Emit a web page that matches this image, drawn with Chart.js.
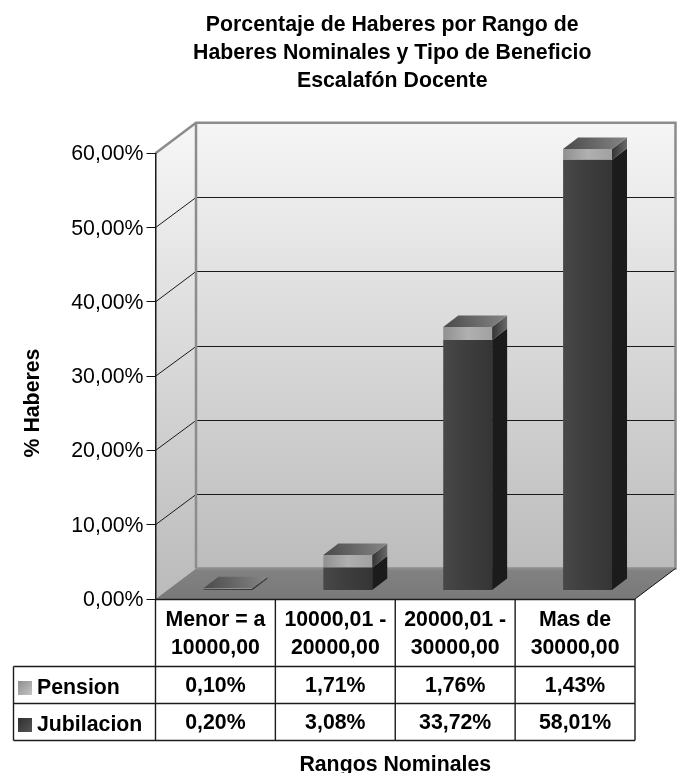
<!DOCTYPE html>
<html>
<head>
<meta charset="utf-8">
<title>Porcentaje de Haberes</title>
<script src="https://cdn.jsdelivr.net/npm/chart.js@4"></script>
<style>
    html, body { margin: 0; padding: 0; background: #fff; }
    canvas { display: block; }
</style>
</head>
<body>
<canvas id="haberesChart" width="681" height="773"></canvas>
<script>
const categories = [['Menor = a', '10000,00'], ['10000,01 -', '20000,00'], ['20000,01 -', '30000,00'], ['Mas de', '30000,00']];
const pension = [0.10, 1.71, 1.76, 1.43];
const jubilacion = [0.20, 3.08, 33.72, 58.01];
const pensionLabels = ['0,10%', '1,71%', '1,76%', '1,43%'];
const jubilacionLabels = ['0,20%', '3,08%', '33,72%', '58,01%'];
const yTickLabels = ['0,00%', '10,00%', '20,00%', '30,00%', '40,00%', '50,00%', '60,00%'];
const titleLines = ['Porcentaje de Haberes por Rango de', 'Haberes Nominales y Tipo de Beneficio', 'Escalafón Docente'];

const FONT = '"Liberation Sans", Arial, sans-serif';
const FONT_SIZE = 21.3;
const WALL = { dx: 40.5, dy: -30.5 }; // fondo del grafico respecto del eje
const PLANE = { dx: 12.5, dy: -8.5 }; // plano frontal de las columnas
const DEPTH = { dx: 15, dy: -11.5 };  // profundidad de cada columna

function hGradient(ctx, x0, x1, stops) {
    const g = ctx.createLinearGradient(x0, 0, x1, 0);
    stops.forEach((c, i) => g.addColorStop(i / (stops.length - 1), c));
    return g;
}

function barFill(stops) {
    return (c) => {
        const x = c.chart.scales.x;
        const mid = x ? x.getPixelForValue(c.dataIndex) : NaN;
        if (!Number.isFinite(mid)) return stops[0];
        return hGradient(c.chart.ctx, mid - 25, mid + 25, stops);
    };
}

function poly(ctx, pts, fill) {
    ctx.beginPath();
    pts.forEach((p, i) => (i ? ctx.lineTo(p[0], p[1]) : ctx.moveTo(p[0], p[1])));
    ctx.closePath();
    ctx.fillStyle = fill;
    ctx.fill();
}

// paredes, piso y lineas de division
const wallsPlugin = {
    id: 'walls',
    // el titulo va apenas a la izquierda del centro del area
    afterLayout(chart) {
        chart.titleBlock.left -= 3;
        chart.titleBlock.right -= 3;
    },
    beforeDraw(chart) {
        const { ctx, chartArea: a, scales: { y } } = chart;
        const bx = a.left + WALL.dx, tb = a.top + WALL.dy, fb = a.bottom + WALL.dy;
        const wallGrad = (t, b) => {
            const g = ctx.createLinearGradient(0, t, 0, b);
            g.addColorStop(0, '#f5f5f5');
            g.addColorStop(1, '#bcbcbc');
            return g;
        };
        ctx.save();
        poly(ctx, [[a.left, a.top], [bx, tb], [bx, fb], [a.left, a.bottom]], wallGrad(a.top - 15, a.bottom - 15));
        poly(ctx, [[bx, tb], [a.right + WALL.dx, tb], [a.right + WALL.dx, fb], [bx, fb]], wallGrad(tb, fb));

        const floorGrad = ctx.createLinearGradient(0, fb, 0, a.bottom);
        floorGrad.addColorStop(0, '#828282');
        floorGrad.addColorStop(1, '#797979');
        poly(ctx, [[a.left, a.bottom], [a.right, a.bottom], [a.right + WALL.dx, fb], [bx, fb]], floorGrad);

        ctx.strokeStyle = '#1a1a1a';
        ctx.lineWidth = 1;
        yTickLabels.forEach((_, i) => {
            if (i === 0 || i === yTickLabels.length - 1) return;
            const py = y.getPixelForValue(i * 10);
            const back = Math.round(py + WALL.dy) + 0.5;
            ctx.beginPath();
            ctx.moveTo(a.left, py);
            ctx.lineTo(bx, back);
            ctx.lineTo(a.right + WALL.dx, back);
            ctx.stroke();
        });

        ctx.strokeStyle = '#8c8c8c';
        ctx.lineWidth = 2.5;
        ctx.beginPath();
        ctx.moveTo(a.left, a.top);
        ctx.lineTo(bx, tb);
        ctx.lineTo(a.right + WALL.dx, tb);
        ctx.lineTo(a.right + WALL.dx, fb);
        ctx.lineTo(bx, fb);
        ctx.moveTo(bx, tb);
        ctx.lineTo(bx, fb);
        ctx.stroke();

        ctx.strokeStyle = '#111';
        ctx.lineWidth = 1;
        ctx.beginPath();
        ctx.moveTo(a.right, a.bottom);
        ctx.lineTo(a.right + WALL.dx, fb);
        ctx.stroke();
        ctx.restore();
    },
    // las columnas se dibujan en su plano, un poco detras del eje
    beforeDatasetsDraw(chart) {
        chart.ctx.save();
        chart.ctx.translate(PLANE.dx, PLANE.dy);
    },
    afterDatasetsDraw(chart) {
        const ctx = chart.ctx;
        const jub = chart.getDatasetMeta(0).data;
        const pen = chart.getDatasetMeta(1).data;
        const { dx, dy } = DEPTH;
        jub.forEach((b, i) => {
            const l = b.x - b.width / 2, r = b.x + b.width / 2;
            const base = b.base, mid = b.y, top = pen[i].y;
            poly(ctx, [[r, base], [r + dx, base + dy], [r + dx, mid + dy], [r, mid]], '#1b1b1b');
            const sg = ctx.createLinearGradient(r, 0, r + dx, 0);
            sg.addColorStop(0, '#343434');
            sg.addColorStop(1, '#6a6a6a');
            poly(ctx, [[r, mid], [r + dx, mid + dy], [r + dx, top + dy], [r, top]], sg);
            const tg = ctx.createLinearGradient(l, top, r + dx, top + dy);
            tg.addColorStop(0, '#4a4a4a');
            tg.addColorStop(1, '#868686');
            poly(ctx, [[l, top], [r, top], [r + dx, top + dy], [l + dx, top + dy]], tg);
        });
        ctx.restore();
    }
};

// tabla de datos bajo el eje x y titulo del eje y
const tablePlugin = {
    id: 'dataTable',
    afterDraw(chart) {
        const { ctx, chartArea: a, scales: { x } } = chart;
        const tableLeft = 13.5, rowTop = 666.5, rowMid = 703.5, rowEnd = 740.5;
        const colW = x.width / categories.length;
        ctx.save();
        ctx.strokeStyle = '#1c1c1c';
        ctx.lineWidth = 1.4;
        ctx.beginPath();
        ctx.moveTo(a.left, a.bottom + 0.5);
        ctx.lineTo(a.right, a.bottom + 0.5);
        [rowTop, rowMid, rowEnd].forEach((yy) => {
            ctx.moveTo(tableLeft, yy);
            ctx.lineTo(a.right, yy);
        });
        ctx.moveTo(tableLeft, rowTop);
        ctx.lineTo(tableLeft, rowEnd);
        categories.concat([null]).forEach((_, i) => {
            ctx.moveTo(a.left + i * colW, a.bottom);
            ctx.lineTo(a.left + i * colW, rowEnd);
        });
        ctx.stroke();

        ctx.fillStyle = '#000';
        ctx.font = 'bold ' + FONT_SIZE + 'px ' + FONT;
        ctx.textBaseline = 'middle';
        ctx.textAlign = 'center';
        categories.forEach((_, i) => {
            const cx = x.getPixelForValue(i);
            ctx.fillText(pensionLabels[i], cx, 686.5);
            ctx.fillText(jubilacionLabels[i], cx, 723.5);
        });
        ctx.textAlign = 'left';
        ctx.fillText('Pension', 37, 688);
        ctx.fillText('Jubilacion', 37, 725);

        // el titulo del eje no queda centrado en la escala
        ctx.save();
        ctx.translate(33, 403);
        ctx.rotate(-Math.PI / 2);
        ctx.textAlign = 'center';
        ctx.fillText('% Haberes', 0, 0);
        ctx.restore();

        const sw1 = ctx.createLinearGradient(18, 681, 32, 695);
        sw1.addColorStop(0, '#8e8e8e');
        sw1.addColorStop(1, '#c4c4c4');
        ctx.fillStyle = sw1;
        ctx.fillRect(18, 681, 14, 14);
        const sw2 = ctx.createLinearGradient(18, 718, 32, 732);
        sw2.addColorStop(0, '#2e2e2e');
        sw2.addColorStop(1, '#565656');
        ctx.fillStyle = sw2;
        ctx.fillRect(18, 718, 14, 14);
        ctx.restore();
    }
};

new Chart(document.getElementById('haberesChart').getContext('2d'), {
    type: 'bar',
    data: {
        labels: categories,
        datasets: [
            { label: 'Jubilacion', data: jubilacion, backgroundColor: barFill(['#484848', '#3d3d3d', '#353535']), clip: false },
            { label: 'Pension', data: pension, backgroundColor: barFill(['#8f8f8f', '#b0b0b0', '#a0a0a0']), clip: false }
        ]
    },
    options: {
        responsive: false,
        animation: false,
        layout: { padding: { left: 18, right: 46, top: 11, bottom: 0 } },
        datasets: { bar: { barPercentage: 0.408, categoryPercentage: 1 } },
        plugins: {
            legend: { display: false },
            tooltip: { enabled: false },
            title: {
                display: true,
                fullSize: false,
                text: titleLines,
                color: '#000',
                font: { family: FONT, size: FONT_SIZE, weight: 'bold', lineHeight: 1.32 },
                padding: { top: 0, bottom: 58 }
            }
        },
        scales: {
            x: {
                stacked: true,
                afterFit: (s) => { s.height = 174; },
                grid: { display: false },
                border: { display: false },
                ticks: {
                    color: '#000',
                    font: { family: FONT, size: FONT_SIZE, weight: 'bold', lineHeight: 1.31 },
                    maxRotation: 0,
                    autoSkip: false,
                    padding: -1
                },
                title: {
                    display: true,
                    text: 'Rangos Nominales',
                    color: '#000',
                    font: { family: FONT, size: FONT_SIZE, weight: 'bold' },
                    padding: { top: 0, bottom: -5 }
                }
            },
            y: {
                stacked: true,
                min: 0,
                max: 60,
                afterFit: (s) => { s.width = 137.5; },
                grid: { drawOnChartArea: false, color: '#111', tickLength: 9 },
                border: { color: '#1a1a1a', width: 1.5 },
                ticks: {
                    stepSize: 10,
                    color: '#000',
                    font: { family: FONT, size: FONT_SIZE },
                    padding: 3,
                    labelOffset: 1,
                    callback: (v) => yTickLabels[v / 10]
                }
            }
        }
    },
    plugins: [wallsPlugin, tablePlugin]
});
</script>
</body>
</html>
